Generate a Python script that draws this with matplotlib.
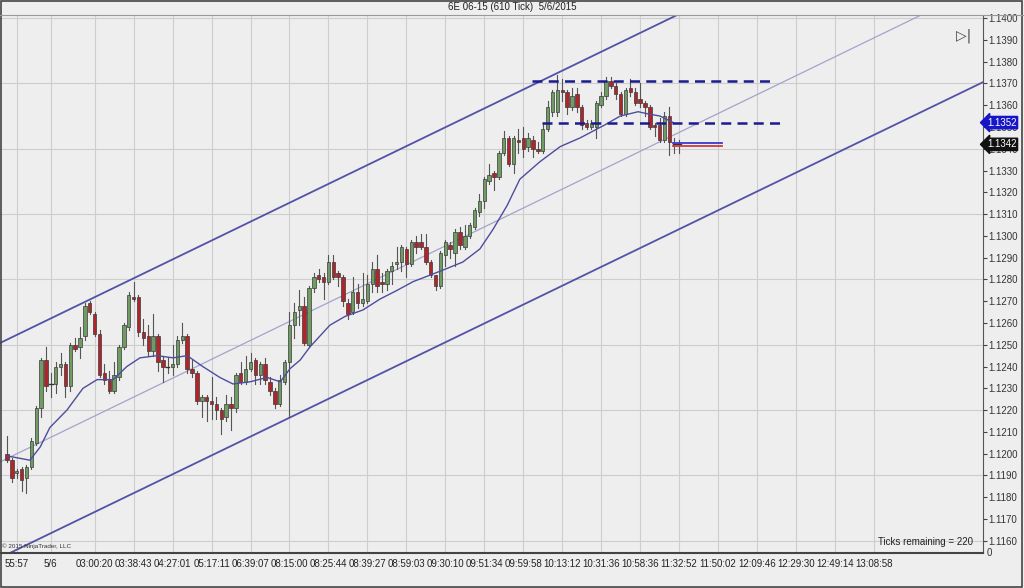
import matplotlib
matplotlib.use('Agg')
import matplotlib.pyplot as plt
from matplotlib.patches import Rectangle
from matplotlib.lines import Line2D
import matplotlib.transforms as mtransforms

plt.rcParams['font.family'] = ['Liberation Sans', 'DejaVu Sans']

# ---------------- data ----------------
opens = [1.1200, 1.1197, 1.1191, 1.1193, 1.1189, 1.1194, 1.1205, 1.1221, 1.1243, 1.1232,
         1.1232, 1.1240, 1.1241, 1.1231, 1.1250, 1.1249, 1.1254, 1.1269, 1.1264, 1.1255,
         1.1237, 1.1234, 1.1229, 1.1235, 1.1249, 1.1258, 1.1272, 1.1272, 1.1256, 1.1254,
         1.1247, 1.1254, 1.1243, 1.1240, 1.1240, 1.1241, 1.1252, 1.1254, 1.1239, 1.1237,
         1.1224, 1.1226, 1.1224, 1.1223, 1.1220, 1.1217, 1.1223, 1.1221, 1.1237, 1.1233,
         1.1239, 1.1243, 1.1236, 1.1241, 1.1233, 1.1229, 1.1223, 1.1233, 1.1242, 1.1259,
         1.1266, 1.1268, 1.1250, 1.1276, 1.1282, 1.1281, 1.1279, 1.1288, 1.1283, 1.1281,
         1.1269, 1.1265, 1.1274, 1.1269, 1.1270, 1.1278, 1.1285, 1.1279, 1.1278, 1.1284,
         1.1287, 1.1288, 1.1294, 1.1287, 1.1297, 1.1297, 1.1295, 1.1288, 1.1282, 1.1277,
         1.1291, 1.1296, 1.1292, 1.1302, 1.1295, 1.1300, 1.1304, 1.1311, 1.1316, 1.1325,
         1.1329, 1.1327, 1.1338, 1.1345, 1.1333, 1.1344, 1.1345, 1.1341, 1.1344, 1.1340,
         1.1339, 1.1349, 1.1357, 1.1357, 1.1367, 1.1366, 1.1359, 1.1365, 1.1359, 1.1352,
         1.1350, 1.1350, 1.1360, 1.1364, 1.1371, 1.1369, 1.1365, 1.1356, 1.1368, 1.1366,
         1.1363, 1.1361, 1.1359, 1.1351, 1.1351, 1.1344, 1.1355, 1.1342, 1.1342]
closes = [1.1197, 1.1189, 1.1192, 1.1188, 1.1194, 1.1206, 1.1221, 1.1243, 1.1231, 1.1232,
          1.1240, 1.1241, 1.1231, 1.1250, 1.1248, 1.1253, 1.1268, 1.1265, 1.1255, 1.1236,
          1.1234, 1.1229, 1.1236, 1.1249, 1.1259, 1.1273, 1.1271, 1.1256, 1.1253, 1.1247,
          1.1254, 1.1242, 1.1240, 1.1240, 1.1241, 1.1252, 1.1254, 1.1239, 1.1237, 1.1224,
          1.1226, 1.1224, 1.1223, 1.1220, 1.1216, 1.1223, 1.1221, 1.1236, 1.1233, 1.1239,
          1.1242, 1.1236, 1.1241, 1.1234, 1.1229, 1.1223, 1.1234, 1.1242, 1.1259, 1.1265,
          1.1268, 1.1251, 1.1276, 1.1281, 1.1280, 1.1279, 1.1288, 1.1281, 1.1281, 1.1270,
          1.1264, 1.1274, 1.1269, 1.1271, 1.1278, 1.1285, 1.1277, 1.1278, 1.1284, 1.1286,
          1.1288, 1.1295, 1.1287, 1.1297, 1.1295, 1.1295, 1.1288, 1.1282, 1.1277, 1.1292,
          1.1297, 1.1294, 1.1302, 1.1296, 1.1300, 1.1305, 1.1312, 1.1316, 1.1326, 1.1328,
          1.1327, 1.1338, 1.1345, 1.1333, 1.1345, 1.1343, 1.1340, 1.1345, 1.1340, 1.1339,
          1.1349, 1.1359, 1.1366, 1.1367, 1.1366, 1.1359, 1.1364, 1.1359, 1.1351, 1.1350,
          1.1352, 1.1361, 1.1364, 1.1371, 1.1369, 1.1365, 1.1356, 1.1367, 1.1366, 1.1361,
          1.1361, 1.1359, 1.1350, 1.1350, 1.1344, 1.1355, 1.1343, 1.1342, 1.1342]
highs = [1.1208, 1.1198, 1.1193, 1.1194, 1.1195, 1.1207, 1.1222, 1.1244, 1.1249, 1.1237,
         1.1242, 1.1246, 1.1242, 1.1251, 1.1253, 1.1258, 1.1269, 1.1270, 1.1265, 1.1257,
         1.1241, 1.1238, 1.1242, 1.1250, 1.1260, 1.1274, 1.1279, 1.1273, 1.1262, 1.1259,
         1.1264, 1.1255, 1.1245, 1.1244, 1.1250, 1.1254, 1.1260, 1.1255, 1.1243, 1.1238,
         1.1227, 1.1227, 1.1235, 1.1226, 1.1221, 1.1227, 1.1226, 1.1237, 1.1242, 1.1245,
         1.1246, 1.1244, 1.1242, 1.1244, 1.1235, 1.1230, 1.1236, 1.1243, 1.1265, 1.1269,
         1.1275, 1.1272, 1.1277, 1.1283, 1.1285, 1.1283, 1.1291, 1.1291, 1.1284, 1.1282,
         1.1271, 1.1281, 1.1278, 1.1283, 1.1282, 1.1288, 1.1291, 1.1283, 1.1285, 1.1288,
         1.1295, 1.1296, 1.1295, 1.1298, 1.1300, 1.1301, 1.1301, 1.1289, 1.1282, 1.1293,
         1.1298, 1.1297, 1.1303, 1.1304, 1.1305, 1.1306, 1.1313, 1.1319, 1.1327, 1.1333,
         1.1330, 1.1339, 1.1348, 1.1346, 1.1346, 1.1349, 1.1350, 1.1347, 1.1346, 1.1343,
         1.1352, 1.1362, 1.1367, 1.1374, 1.1372, 1.1367, 1.1368, 1.1368, 1.1360, 1.1353,
         1.1353, 1.1362, 1.1366, 1.1373, 1.1373, 1.1370, 1.1366, 1.1368, 1.1372, 1.1368,
         1.1370, 1.1362, 1.1360, 1.1352, 1.1354, 1.1357, 1.1359, 1.1345, 1.1344]
lows = [1.1196, 1.1187, 1.1189, 1.1183, 1.1182, 1.1193, 1.1204, 1.1217, 1.1229, 1.1226,
        1.1228, 1.1236, 1.1226, 1.1229, 1.1247, 1.1244, 1.1252, 1.1264, 1.1254, 1.1235,
        1.1232, 1.1228, 1.1228, 1.1234, 1.1248, 1.1257, 1.1270, 1.1254, 1.1250, 1.1245,
        1.1245, 1.1238, 1.1233, 1.1237, 1.1236, 1.1240, 1.1251, 1.1237, 1.1235, 1.1223,
        1.1217, 1.1215, 1.1216, 1.1216, 1.1209, 1.1215, 1.1211, 1.1219, 1.1232, 1.1232,
        1.1238, 1.1232, 1.1232, 1.1232, 1.1227, 1.1221, 1.1222, 1.1232, 1.1217, 1.1253,
        1.1259, 1.1250, 1.1249, 1.1274, 1.1279, 1.1271, 1.1278, 1.1280, 1.1277, 1.1268,
        1.1262, 1.1264, 1.1267, 1.1268, 1.1269, 1.1274, 1.1274, 1.1274, 1.1275, 1.1278,
        1.1285, 1.1284, 1.1281, 1.1286, 1.1292, 1.1294, 1.1287, 1.1281, 1.1275, 1.1276,
        1.1286, 1.1290, 1.1286, 1.1294, 1.1294, 1.1299, 1.1303, 1.1309, 1.1313, 1.1324,
        1.1321, 1.1326, 1.1337, 1.1332, 1.1329, 1.1338, 1.1336, 1.1339, 1.1336, 1.1338,
        1.1338, 1.1348, 1.1355, 1.1355, 1.1362, 1.1356, 1.1358, 1.1357, 1.1349, 1.1349,
        1.1349, 1.1345, 1.1359, 1.1363, 1.1368, 1.1363, 1.1355, 1.1355, 1.1364, 1.1360,
        1.1359, 1.1355, 1.1349, 1.1346, 1.1343, 1.1343, 1.1337, 1.1338, 1.1338]

# moving average read at sample bars
ma_bar = [0, 4.7, 6.8, 8.8, 12.3, 15.6, 18.5, 21.8, 24.6, 27.3, 30.8, 34.1, 37, 40.2,
          43.7, 46.4, 49.9, 53.4, 56.1, 58.1, 60.2, 62.2, 66.3, 69.4, 73.1, 76.6, 80.1,
          83.4, 86.9, 90.3, 93.6, 97.1, 99.8, 102.7, 105.3, 109.4, 113.6, 117.7, 122.8,
          125.9, 129.6, 131.6, 134.1, 136.8]
ma_val = [1.1199, 1.1197, 1.1203, 1.1212, 1.1220, 1.1230, 1.1234, 1.1234, 1.1240, 1.1244,
          1.1245, 1.1244, 1.1245, 1.1240, 1.1235, 1.1232, 1.1233, 1.1235, 1.1233, 1.1239,
          1.1243, 1.1249, 1.1259, 1.1263, 1.1266, 1.1271, 1.1275, 1.1279, 1.1282, 1.1285,
          1.1288, 1.1294, 1.1303, 1.1314, 1.1326, 1.1334, 1.1341, 1.1345, 1.1351, 1.1355,
          1.1357, 1.1356, 1.1355, 1.1352]

# regression channel (bar, price) end points
upper_bar, upper_px = [-1.44, 140.0], [1.12508, 1.14040]
middle_bar, middle_px = [-1.44, 190.0], [1.11962, 1.14039]
lower_bar, lower_px = [-1.44, 202.0], [1.11522, 1.13723]

# horizontal dashed levels
level_hi, level_hi_bars = 1.1371, [107.8, 156.7]
level_lo, level_lo_bars = 1.1352, [109.9, 158.7]

# small marker at last price
marker_bars = [136.8, 146.8]
marker_blue, marker_red = 1.13426, 1.13413

tick_pos = [2, 9, 18, 26, 34, 42, 50, 58, 66, 74, 82, 90, 98, 106, 114, 122, 130, 138,
            146, 154, 162, 170, 178]
tick_labels = ['55:57', '5/6', '03:00:20', '03:38:43', '04:27:01', '05:17:11', '06:39:07',
               '08:15:00', '08:25:44', '08:39:27', '08:59:03', '09:30:10', '09:51:34',
               '09:59:58', '10:13:12', '10:31:36', '10:58:36', '11:32:52', '11:50:02',
               '12:09:46', '12:29:30', '12:49:14', '13:08:58']
price_ticks = [1.1160, 1.1170, 1.1180, 1.1190, 1.1200, 1.1210, 1.1220, 1.1230, 1.1240,
               1.1250, 1.1260, 1.1270, 1.1280, 1.1290, 1.1300, 1.1310, 1.1320, 1.1330,
               1.1340, 1.1350, 1.1360, 1.1370, 1.1380, 1.1390, 1.1400]
price_grid = [1.1160, 1.1190, 1.1220, 1.1250, 1.1280, 1.1310, 1.1340, 1.1370, 1.1400]
tag_blue, tag_black = 1.1352, 1.1342

# ---------------- drawing ----------------
BG = '#eeeeee'
fig = plt.figure(figsize=(10.24, 5.88), dpi=100, facecolor=BG)
ax = fig.add_axes([0.0, (588 - 553) / 588, 983 / 1024, (553 - 15) / 588])
ax.set_facecolor(BG)
ax.set_xlim(-1.437, 200.4)
ax.set_ylim(1.11544, 1.14014)

for p in price_grid:
    ax.axhline(p, color='#cdcdcd', lw=0.8, zorder=0)
for t in tick_pos:
    ax.axvline(t, color='#cdcdcd', lw=0.8, zorder=0)

# channel
ax.plot(upper_bar, upper_px, color='#5252a6', lw=1.3, zorder=2)
ax.plot(lower_bar, lower_px, color='#5252a6', lw=1.3, zorder=2)
ax.plot(middle_bar, middle_px, color='#a3a3cc', lw=0.9, zorder=2)

# candles
GREEN = '#6e9c62'
RED = '#b1252a'
w = 0.7
for i, (o, c, h, l) in enumerate(zip(opens, closes, highs, lows)):
    ax.plot([i, i], [l, h], color='#555555', lw=0.8, zorder=3)
    lo, hi = min(o, c), max(o, c)
    if hi - lo < 0.00004:
        ax.plot([i - w / 2, i + w / 2], [c, c], color='#333333', lw=1.0, zorder=4)
    else:
        col = GREEN if c > o else RED
        ax.add_patch(Rectangle((i - w / 2, lo), w, hi - lo, facecolor=col,
                               edgecolor='#3a3a3a', lw=0.5, zorder=4))

# moving average
ax.plot(ma_bar, ma_val, color='#4d4d9e', lw=1.0, zorder=5)

# dashed levels
ax.plot(level_hi_bars, [level_hi, level_hi], color='#1b1b8f', lw=1.8,
        dashes=(4, 2.5), zorder=6)
ax.plot(level_lo_bars, [level_lo, level_lo], color='#1b1b8f', lw=1.8,
        dashes=(4, 2.5), zorder=6)

# last price markers
ax.plot(marker_bars, [marker_blue, marker_blue], color='#3a3ad0', lw=1.3, zorder=6)
ax.plot(marker_bars, [marker_red, marker_red], color='#d03a3a', lw=1.3, zorder=6)

# axes styling
for s in ['top', 'left']:
    ax.spines[s].set_visible(False)
ax.spines['right'].set_color('#555555')
ax.spines['bottom'].set_color('#444444')
ax.spines['bottom'].set_linewidth(1.5)
ax.yaxis.tick_right()
ax.set_yticks(price_ticks)
ax.set_yticklabels([f'{p:.4f}' for p in price_ticks])
ax.tick_params(axis='y', direction='out', length=3, pad=1, labelsize=7,
               colors='#444444', labelcolor='#333333')
ax.set_xticks(tick_pos)
ax.set_xticklabels(tick_labels)
ax.tick_params(axis='x', length=0, pad=4, labelsize=7, labelcolor='#222222')

# price tags (cover the tick labels underneath, as in the original)
trans = mtransforms.blended_transform_factory(ax.transAxes, ax.transData)
ax.text(1.004, tag_blue, '1.1352', transform=trans, fontsize=7, color='white',
        va='center', ha='left', zorder=10, clip_on=False,
        bbox=dict(boxstyle='larrow,pad=0.12', fc='#1616c8', ec='#1616c8'))
ax.text(1.004, tag_black, '1.1342', transform=trans, fontsize=7, color='white',
        va='center', ha='left', zorder=10, clip_on=False,
        bbox=dict(boxstyle='larrow,pad=0.12', fc='#111111', ec='#111111'))
ax.text(1.004, 0.0, '0', transform=ax.transAxes, fontsize=7, color='#333333',
        va='center', ha='left', clip_on=False)

# annotations
fig.text(0.5, 1 - 7 / 588, '6E 06-15 (610 Tick)  5/6/2015', ha='center', va='center',
         fontsize=7, color='#222222')
ax.text(0.002, 0.008, '\u00a9 2015 NinjaTrader, LLC', transform=ax.transAxes,
        fontsize=4.5, color='#333333', ha='left', va='bottom')
ax.text(0.99, 0.012, 'Ticks remaining = 220', transform=ax.transAxes, fontsize=7,
        color='#222222', ha='right', va='bottom')
ax.text(0.988, 0.975, '\u25b7|', transform=ax.transAxes, fontsize=10,
        color='#444444', ha='right', va='top', family=['DejaVu Sans'])

# top separator and figure border
fig.add_artist(Line2D([0, 1], [1 - 15 / 588, 1 - 15 / 588], transform=fig.transFigure,
                      color='#999999', lw=0.8))
fig.add_artist(Rectangle((0.001, 0.002), 0.997, 0.996, transform=fig.transFigure,
                         fill=False, ec='#444444', lw=1.2))

fig.savefig('out.png', dpi=100, facecolor=BG)
